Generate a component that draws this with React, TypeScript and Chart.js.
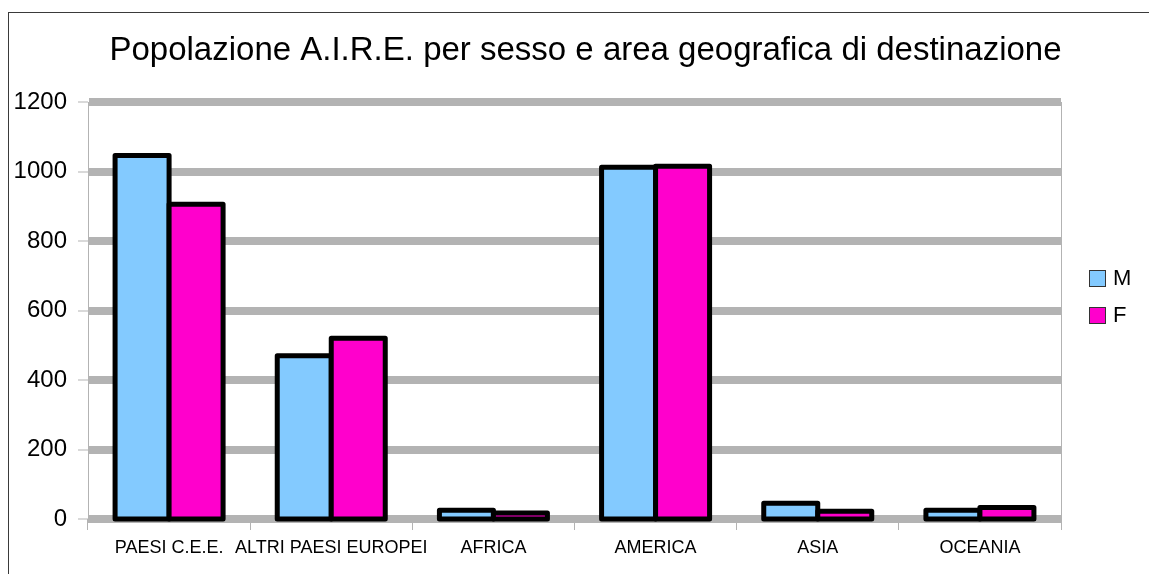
import React, { useEffect, useRef } from "react";
import { Chart, registerables } from "chart.js";

Chart.register(...registerables);

const titleText = "Popolazione A.I.R.E. per sesso e area geografica di destinazione";
const categories = ["PAESI C.E.E.", "ALTRI PAESI EUROPEI", "AFRICA", "AMERICA", "ASIA", "OCEANIA"];
const seriesLabels = ["M", "F"];
const maleValues = [1046, 470, 25, 1012, 45, 25];
const femaleValues = [906, 520, 17, 1015, 22, 33];
const yMin = 0;
const yMax = 1200;
const yStep = 200;

const FONT = "'Liberation Sans', Arial, sans-serif";
const M_COLOR = "#83caff";
const F_COLOR = "#ff00cc";
const GRID = "#b3b3b3";

const decorPlugin = {
  id: "decor",
  beforeDraw(chart: any) {
    const ctx = chart.ctx;
    ctx.save();
    ctx.fillStyle = "#ffffff";
    ctx.fillRect(0, 0, chart.width, chart.height);
    ctx.strokeStyle = "#3a3a3a";
    ctx.lineWidth = 1;
    ctx.strokeRect(8.5, 12.5, chart.width + 200, chart.height + 200);
    ctx.fillStyle = "#000000";
    ctx.font = `33px ${FONT}`;
    ctx.textAlign = "center";
    ctx.textBaseline = "alphabetic";
    ctx.fillText(titleText, 585.5, 60);
    ctx.restore();
  },
  beforeDatasetsDraw(chart: any) {
    const ctx = chart.ctx;
    const a = chart.chartArea;
    ctx.save();
    ctx.strokeStyle = GRID;
    ctx.lineWidth = 1;
    ctx.beginPath();
    ctx.moveTo(Math.round(a.right) + 0.5, a.top);
    ctx.lineTo(Math.round(a.right) + 0.5, a.bottom);
    ctx.stroke();
    ctx.restore();
  },
  afterDatasetsDraw(chart: any) {
    const ctx = chart.ctx;
    const yScale = chart.scales.y;
    const basePx = yScale.getPixelForValue(0);
    ctx.save();
    chart.data.datasets.forEach((ds: any, di: number) => {
      const meta = chart.getDatasetMeta(di);
      meta.data.forEach((el: any) => {
        const p = el.getProps(["x", "y", "width"], true);
        const left = p.x - p.width / 2;
        ctx.fillStyle = ds.backgroundColor;
        ctx.fillRect(left, p.y, p.width, basePx - p.y);
        ctx.strokeStyle = "#000000";
        ctx.lineWidth = 5;
        ctx.lineJoin = "round";
        ctx.strokeRect(left, p.y, p.width, basePx - p.y);
      });
    });
    // legend
    chart.data.datasets.forEach((ds: any, di: number) => {
      const y = 270 + di * 37;
      ctx.fillStyle = ds.backgroundColor;
      ctx.fillRect(1089, y, 16, 16);
      ctx.strokeStyle = "#333333";
      ctx.lineWidth = 1;
      ctx.lineJoin = "miter";
      ctx.strokeRect(1089.5, y + 0.5, 16, 16);
      ctx.fillStyle = "#000000";
      ctx.font = `22px ${FONT}`;
      ctx.textAlign = "left";
      ctx.textBaseline = "middle";
      ctx.fillText(ds.label, 1113, y + 9);
    });
    ctx.restore();
  },
};

export default function App() {
  const ref = useRef<HTMLCanvasElement | null>(null);
  useEffect(() => {
    if (!ref.current) return;
    const chart = new Chart(ref.current, {
      type: "bar",
      data: {
        labels: categories,
        datasets: [
          { label: seriesLabels[0], data: maleValues, backgroundColor: M_COLOR, borderWidth: 0 },
          { label: seriesLabels[1], data: femaleValues, backgroundColor: F_COLOR, borderWidth: 0 },
        ],
      },
      options: {
        animation: false,
        responsive: true,
        maintainAspectRatio: false,
        devicePixelRatio: 1,
        layout: { padding: { left: 0, right: 88, top: 102, bottom: 15 } },
        datasets: { bar: { categoryPercentage: 0.666, barPercentage: 1 } },
        plugins: {
          legend: { display: false },
          title: { display: false },
          tooltip: { enabled: false },
        },
        scales: {
          x: {
            afterFit(scale: any) { scale.height = 40; },
            grid: {
              offset: true,
              drawOnChartArea: false,
              color: GRID,
              lineWidth: 1,
              tickLength: 11,
            },
            border: { display: false },
            ticks: {
              autoSkip: false,
              maxRotation: 0,
              minRotation: 0,
              padding: 7,
              color: "#000000",
              font: { family: FONT, size: 18 },
            },
          },
          y: {
            min: yMin,
            max: yMax,
            afterFit(scale: any) { scale.width = 88; },
            grid: {
              color: GRID,
              lineWidth: 8,
              tickLength: 10,
              tickWidth: 1,
              tickColor: GRID,
            },
            border: { display: true, color: GRID, width: 1 },
            ticks: {
              stepSize: yStep,
              padding: 11,
              color: "#000000",
              font: { family: FONT, size: 24 },
              callback: (v: any) => String(v),
            },
          },
        },
      },
      plugins: [decorPlugin],
    });
    return () => chart.destroy();
  }, []);
  return (
    <div style={{ position: "fixed", left: 0, top: 0, width: 1149, height: 574, background: "#fff" }}>
      <canvas ref={ref} />
    </div>
  );
}
